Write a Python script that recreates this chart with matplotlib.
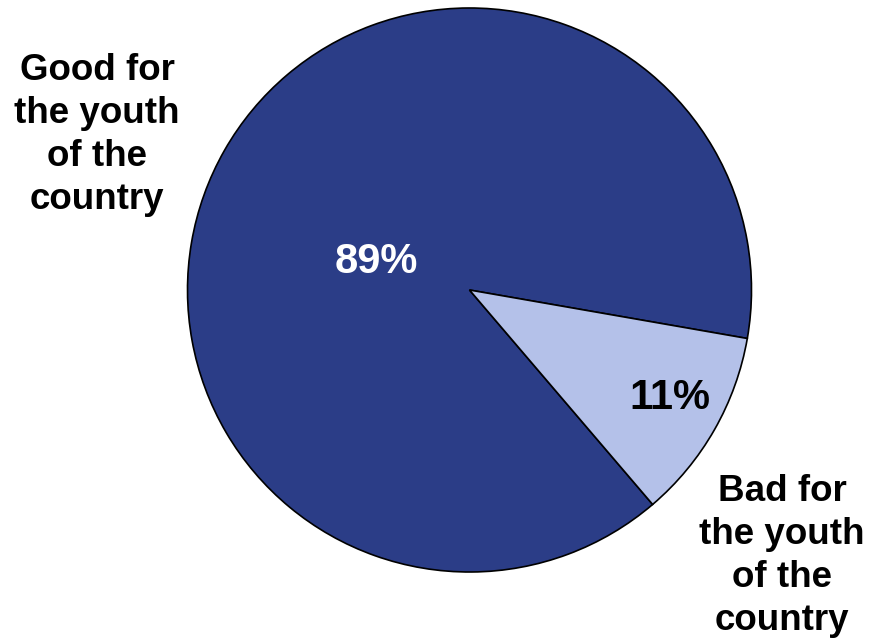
import matplotlib.pyplot as plt

labels = ['Good for\nthe youth\nof the\ncountry', 'Bad for\nthe youth\nof the\ncountry']
shares = [89, 11]
colors = ['#2B3D87', '#B4C1E9']
pct_colors = ['white', 'black']

W, H = 869, 640
fig = plt.figure(figsize=(W / 100, H / 100), dpi=100)
plt.rcParams['font.family'] = ['Liberation Sans', 'DejaVu Sans']

# pie centre (469, 290) px from top, radius 282 px
cx, cy, r = 469.5, 290, 282
ax = fig.add_axes([(cx - r) / W, (H - cy - r) / H, 2 * r / W, 2 * r / H])
wedges, _ = ax.pie(shares, colors=colors, startangle=-9.9, counterclock=True,
                   radius=1, wedgeprops=dict(edgecolor='black', linewidth=1.2))
for w in wedges:
    w.set_clip_on(False)
ax.set_xlim(-1, 1)
ax.set_ylim(-1, 1)
ax.set_aspect('equal')
ax.axis('off')

# percentage labels
pct_pos = [(376, 262), (670, 398)]
for v, (x, y), c in zip(shares, pct_pos, pct_colors):
    fig.text(x / W, 1 - y / H, f'{v}%', color=c, fontsize=30, fontweight='bold',
             ha='center', va='center')

# category labels
lab_pos = [(97, 135), (782, 556)]
for t, (x, y) in zip(labels, lab_pos):
    fig.text(x / W, 1 - y / H, t, fontsize=26.5, fontweight='bold', ha='center',
             va='center', linespacing=1.3)

fig.savefig('out.png', dpi=100)
